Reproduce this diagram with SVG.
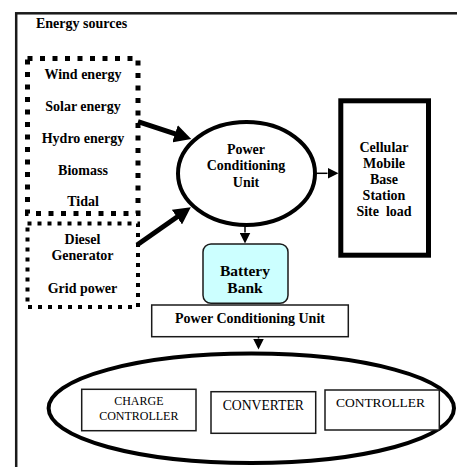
<svg xmlns="http://www.w3.org/2000/svg" width="457" height="467" viewBox="0 0 457 467">
<style>
  text { font-family: "Liberation Serif", "Times New Roman", serif; fill: #000; }
  .b { font-weight: bold; font-size: 14px; text-anchor: middle; }
  .r { font-size: 13.5px; text-anchor: middle; }
  .box { fill: #fff; stroke: #1a1a1a; stroke-width: 1.5; }
  .thick { stroke: #000; stroke-width: 5; fill: none; marker-end: url(#headBig); }
  .thin { stroke: #000; stroke-width: 1.5; fill: none; marker-end: url(#headSmall); }
</style>
<defs>
  <marker id="headBig" markerUnits="userSpaceOnUse" markerWidth="18" markerHeight="18" refX="1" refY="9" orient="auto">
    <path d="M0,0 L17,9 L0,18 z" fill="#000"/>
  </marker>
  <marker id="headSmall" markerUnits="userSpaceOnUse" markerWidth="11" markerHeight="11" refX="0" refY="5.5" orient="auto">
    <path d="M0,0 L11,5.5 L0,11 z" fill="#000"/>
  </marker>
</defs>
<rect width="457" height="467" fill="#fff"/>

<g id="frame">
  <rect x="16.2" y="13.3" width="470" height="470" fill="none" stroke="#1a1a1a" stroke-width="2.5"/>
  <text x="36" y="28" style="font-weight:bold;font-size:14px">Energy sources</text>
</g>

<g id="connectors">
  <line class="thick" x1="138" y1="121.7" x2="176" y2="134.1"/>
  <line class="thick" x1="137" y1="245" x2="177.7" y2="216.5"/>
  <line class="thin" x1="317" y1="173.3" x2="327.5" y2="173.3"/>
  <line class="thin" x1="245" y1="226" x2="245" y2="232.5"/>
  <line class="thin" x1="258.5" y1="335" x2="258.5" y2="338.5"/>
</g>

<g id="renewables">
  <rect x="27.5" y="58.5" width="110.5" height="155" fill="none" stroke="#000" stroke-width="5" stroke-dasharray="5 7.5"/>
  <text class="b" x="83" y="79">Wind energy</text>
  <text class="b" x="83" y="111">Solar energy</text>
  <text class="b" x="83" y="143">Hydro energy</text>
  <text class="b" x="83" y="175">Biomass</text>
  <text class="b" x="83" y="206">Tidal</text>
</g>

<g id="conventional">
  <rect x="27.5" y="223.5" width="110.5" height="83.5" fill="none" stroke="#000" stroke-width="4" stroke-dasharray="4 6"/>
  <text class="b" x="82.5" y="244">Diesel</text>
  <text class="b" x="82.5" y="260">Generator</text>
  <text class="b" x="82.5" y="293">Grid power</text>
</g>

<g id="pcu-ellipse">
  <ellipse cx="246.5" cy="173.5" rx="68.5" ry="51.5" fill="#fff" stroke="#000" stroke-width="4"/>
  <text class="b" x="246" y="154">Power</text>
  <text class="b" x="246" y="170">Conditioning</text>
  <text class="b" x="246" y="186.5">Unit</text>
</g>

<g id="site-load">
  <rect x="340.8" y="100.8" width="87.7" height="154.4" fill="#fff" stroke="#000" stroke-width="5"/>
  <text class="b" x="384" y="151.7">Cellular</text>
  <text class="b" x="384" y="167.7">Mobile</text>
  <text class="b" x="384" y="184">Base</text>
  <text class="b" x="384" y="200">Station</text>
  <text class="b" x="384" y="216" xml:space="preserve">Site  load</text>
</g>

<g id="battery">
  <rect x="203" y="244" width="85" height="59.3" rx="8" fill="#ccffff" stroke="#1a1a1a" stroke-width="1.5"/>
  <text class="b" x="245" y="275.7" style="font-size:15.5px">Battery</text>
  <text class="b" x="245" y="292.7" style="font-size:15.5px">Bank</text>
</g>

<g id="pcu-box">
  <rect class="box" x="151.7" y="305" width="196.6" height="31.7"/>
  <text class="b" x="250" y="323.3">Power Conditioning Unit</text>
</g>

<g id="subsystems">
  <ellipse cx="251.3" cy="408.3" rx="202.7" ry="54.7" fill="#fff" stroke="#000" stroke-width="4"/>
</g>

<g id="charge-controller">
  <rect class="box" x="81.7" y="389.3" width="114.3" height="41.4"/>
  <text class="r" x="138.8" y="405" style="font-size:12px">CHARGE</text>
  <text class="r" x="138.8" y="420" style="font-size:12px">CONTROLLER</text>
</g>

<g id="converter">
  <rect class="box" x="211" y="391.7" width="104.7" height="41.6"/>
  <text class="r" x="263.3" y="410" style="font-size:13.7px">CONVERTER</text>
</g>

<g id="controller">
  <rect class="box" x="325" y="390" width="114.3" height="40"/>
  <text class="r" x="380.5" y="407.3">CONTROLLER</text>
</g>
</svg>
